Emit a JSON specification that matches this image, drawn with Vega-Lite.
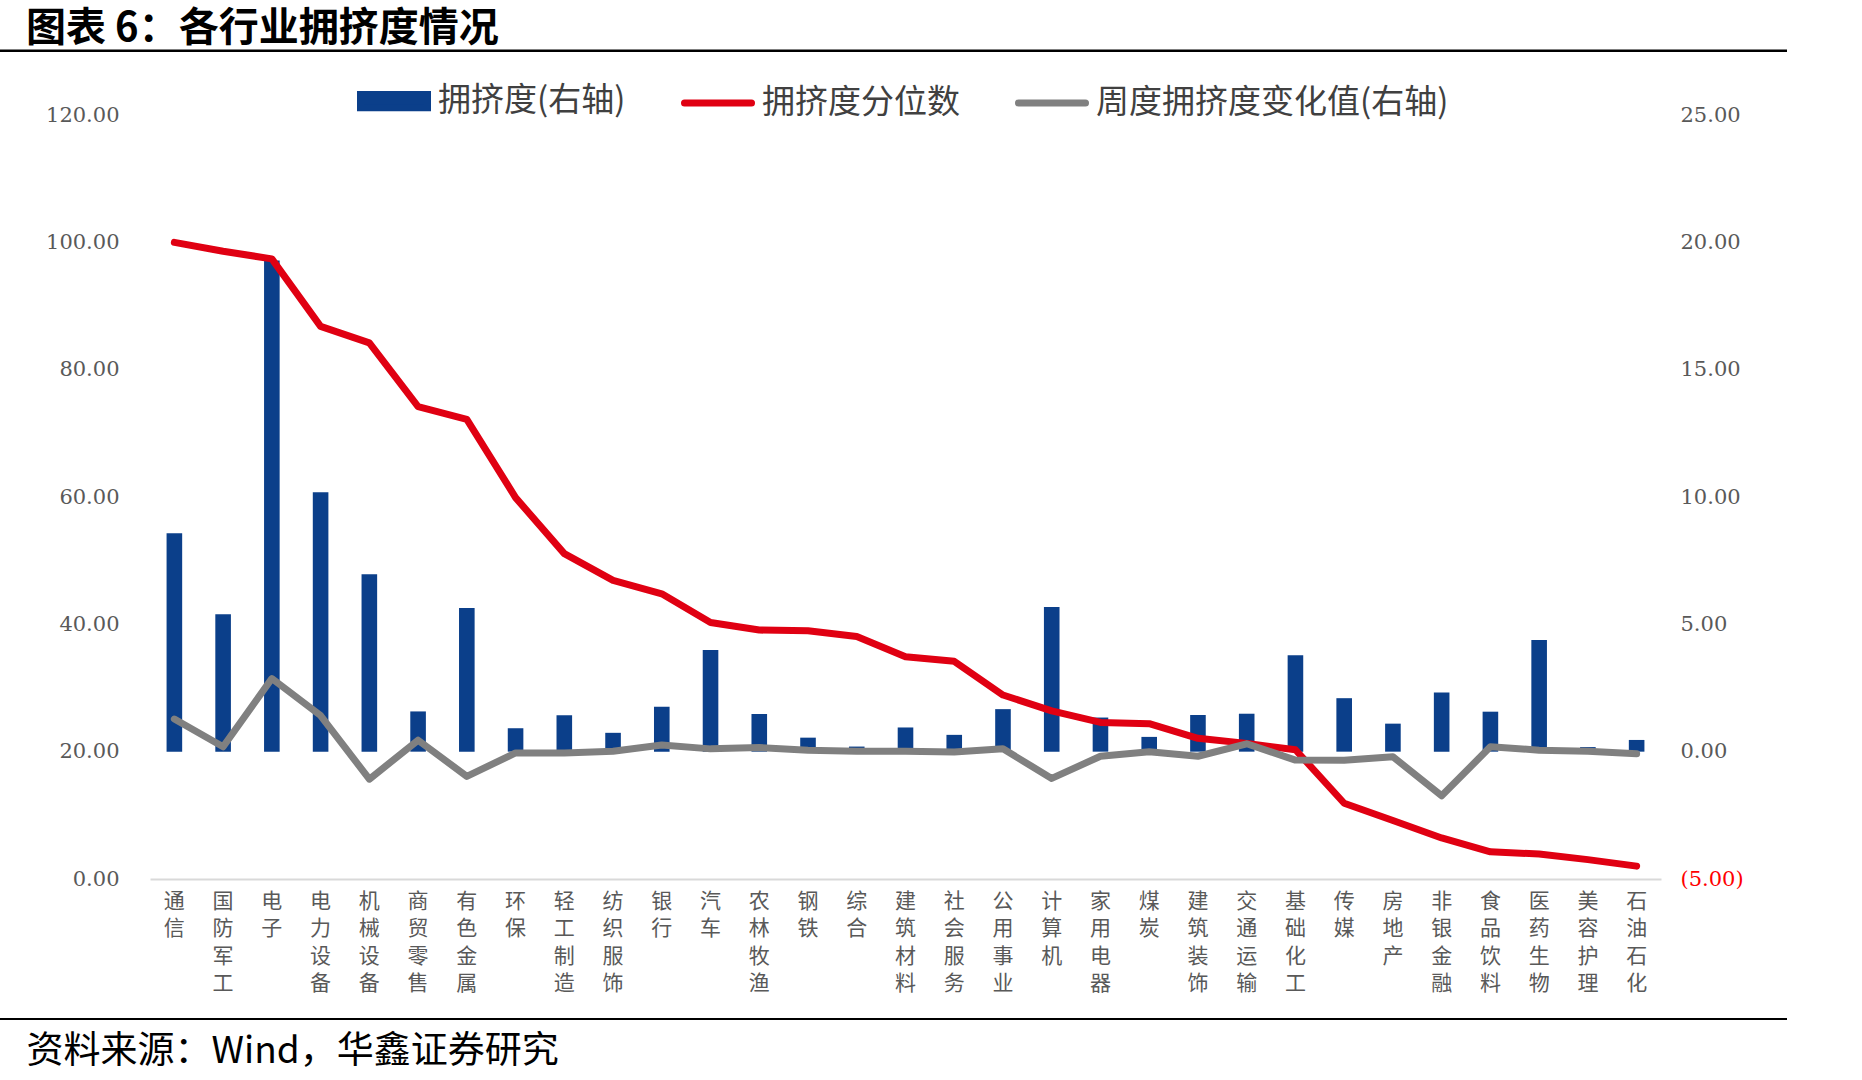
{
  "$schema": "https://vega.github.io/schema/vega-lite/v6.json",
  "width": 1511,
  "height": 764,
  "autosize": {"type": "none"},
  "padding": {"left": 150, "top": 115, "right": 201, "bottom": 201},
  "background": "white",
  "title": {
    "text": "图表 6：各行业拥挤度情况",
    "anchor": "start",
    "frame": "group",
    "fontSize": 40,
    "font": "Noto Sans CJK SC",
    "fontWeight": "bold",
    "color": "#000000",
    "dx": -124,
    "dy": 10,
    "offset": 10
  },
  "config": {"view": {"stroke": null}, "font": "Noto Sans CJK SC"},
  "data": {
    "values": [
      {"industry": "通信", "crowd": 8.58, "pct": 100.0, "chg": 1.28},
      {"industry": "国防军工", "crowd": 5.40, "pct": 98.6, "chg": 0.19},
      {"industry": "电子", "crowd": 19.29, "pct": 97.4, "chg": 2.87},
      {"industry": "电力设备", "crowd": 10.19, "pct": 86.8, "chg": 1.42},
      {"industry": "机械设备", "crowd": 6.97, "pct": 84.2, "chg": -1.08},
      {"industry": "商贸零售", "crowd": 1.58, "pct": 74.2, "chg": 0.45},
      {"industry": "有色金属", "crowd": 5.64, "pct": 72.2, "chg": -0.97},
      {"industry": "环保", "crowd": 0.92, "pct": 59.9, "chg": -0.05},
      {"industry": "轻工制造", "crowd": 1.43, "pct": 51.1, "chg": -0.05},
      {"industry": "纺织服饰", "crowd": 0.74, "pct": 46.9, "chg": 0.02},
      {"industry": "银行", "crowd": 1.76, "pct": 44.8, "chg": 0.26},
      {"industry": "汽车", "crowd": 3.99, "pct": 40.3, "chg": 0.11},
      {"industry": "农林牧渔", "crowd": 1.48, "pct": 39.1, "chg": 0.16},
      {"industry": "钢铁", "crowd": 0.55, "pct": 39.0, "chg": 0.06},
      {"industry": "综合", "crowd": 0.20, "pct": 38.1, "chg": 0.02},
      {"industry": "建筑材料", "crowd": 0.95, "pct": 34.9, "chg": 0.02},
      {"industry": "社会服务", "crowd": 0.66, "pct": 34.2, "chg": -0.01},
      {"industry": "公用事业", "crowd": 1.67, "pct": 28.9, "chg": 0.11},
      {"industry": "计算机", "crowd": 5.68, "pct": 26.4, "chg": -1.05},
      {"industry": "家用电器", "crowd": 1.34, "pct": 24.6, "chg": -0.18},
      {"industry": "煤炭", "crowd": 0.58, "pct": 24.4, "chg": 0.0},
      {"industry": "建筑装饰", "crowd": 1.44, "pct": 22.1, "chg": -0.18},
      {"industry": "交通运输", "crowd": 1.49, "pct": 21.3, "chg": 0.31},
      {"industry": "基础化工", "crowd": 3.79, "pct": 20.3, "chg": -0.33},
      {"industry": "传媒", "crowd": 2.10, "pct": 11.9, "chg": -0.34},
      {"industry": "房地产", "crowd": 1.10, "pct": 9.2, "chg": -0.20},
      {"industry": "非银金融", "crowd": 2.32, "pct": 6.45, "chg": -1.73},
      {"industry": "食品饮料", "crowd": 1.57, "pct": 4.27, "chg": 0.19},
      {"industry": "医药生物", "crowd": 4.38, "pct": 3.93, "chg": 0.06},
      {"industry": "美容护理", "crowd": 0.18, "pct": 3.04, "chg": 0.02},
      {"industry": "石油石化", "crowd": 0.46, "pct": 2.02, "chg": -0.08}
    ]
  },
  "layer": [
    {
      "layer": [
        {
          "mark": {"type": "bar"},
          "encoding": {
            "x": {
              "field": "industry", "type": "nominal", "sort": null,
              "scale": {"paddingInner": 0.68, "paddingOuter": 0.34},
              "axis": {
                "title": "资料来源：Wind，华鑫证券研究",
                "labelExpr": "split(datum.label, '')",
                "labelAngle": 0,
                "labelFontSize": 21,
                "labelLineHeight": 27.5,
                "labelColor": "#595959",
                "labelPadding": 11,
                "labelBaseline": "top",
                "labelOverlap": false,
                "labelBound": false,
                "ticks": false,
                "domainColor": "#D9D9D9",
                "domainWidth": 2,
                "titleFontSize": 37,
                "titleFont": "Noto Sans CJK SC",
                "titleColor": "#000000",
                "titleFontWeight": "normal",
                "titleAnchor": "start",
                "titleAlign": "left",
                "titleX": -124,
                "titleY": 183,
                "titleBaseline": "alphabetic"
              }
            },
            "y": {
              "field": "crowd", "type": "quantitative",
              "scale": {"domain": [-5, 25], "nice": false},
              "axis": {
                "orient": "right",
                "values": [-5, 0, 5, 10, 15, 20, 25],
                "labelExpr": "datum.value < 0 ? '(' + format(-datum.value, '.2f') + ')' : format(datum.value, '.2f')",
                "labelColor": {"condition": {"test": "datum.value < 0", "value": "#FF0000"}, "value": "#595959"},
                "labelFont": "DejaVu Serif",
                "labelFontSize": 21,
                "labelPadding": 19,
                "ticks": false,
                "domain": false,
                "grid": false,
                "title": null
              }
            },
            "color": {
              "datum": "拥挤度(右轴)", "type": "nominal",
              "scale": {
                "domain": ["拥挤度(右轴)", "拥挤度分位数", "周度拥挤度变化值(右轴)"],
                "range": ["#0B3F8A", "#E00012", "#808080"]
              },
              "legend": {
                "title": null,
                "orient": "none",
                "direction": "horizontal",
                "legendX": 207,
                "legendY": -51,
                "padding": 0,
                "symbolType": "stroke",
                "symbolSize": 4489,
                "symbolStrokeWidth": 7,
                "labelFontSize": 33,
                "labelFont": "Noto Sans CJK SC",
                "labelColor": "#404040",
                "labelOffset": 7,
                "columnPadding": 44,
                "labelLimit": 600,
                "encode": {
                  "symbols": {
                    "update": {
                      "shape": {"signal": "datum.value === '拥挤度(右轴)' ? 'M-1,-0.2H1V0.2H-1Z' : 'stroke'"},
                      "fill": {"signal": "datum.value === '拥挤度(右轴)' ? '#0B3F8A' : 'transparent'"},
                      "stroke": {"signal": "datum.value === '拥挤度(右轴)' ? 'transparent' : scale('color', datum.value)"},
                      "strokeCap": {"value": "round"}
                    }
                  }
                }
              }
            }
          }
        },
        {
          "mark": {"type": "line", "strokeWidth": 7, "strokeCap": "round", "strokeJoin": "round"},
          "encoding": {
            "x": {"field": "industry", "type": "nominal", "sort": null},
            "y": {
              "field": "pct", "type": "quantitative",
              "scale": {"domain": [0, 120], "nice": false},
              "axis": {
                "orient": "left",
                "values": [0, 20, 40, 60, 80, 100, 120],
                "format": ".2f",
                "labelColor": "#595959",
                "labelFont": "DejaVu Serif",
                "labelFontSize": 21,
                "labelPadding": 31,
                "ticks": false,
                "domain": false,
                "grid": false,
                "title": null
              }
            },
            "color": {"datum": "拥挤度分位数", "type": "nominal"}
          }
        },
        {
          "mark": {"type": "line", "strokeWidth": 7, "strokeCap": "round", "strokeJoin": "round"},
          "encoding": {
            "x": {"field": "industry", "type": "nominal", "sort": null},
            "y": {
              "field": "chg", "type": "quantitative",
              "scale": {"domain": [-5, 25], "nice": false},
              "axis": null
            },
            "color": {"datum": "周度拥挤度变化值(右轴)", "type": "nominal"}
          }
        }
      ],
      "resolve": {"scale": {"y": "independent"}}
    },
    {
      "data": {"values": [{}]},
      "mark": {"type": "rule", "color": "#000000", "strokeWidth": 2.5},
      "encoding": {
        "x": {"datum": 0, "type": "quantitative", "scale": {"domain": [0, 1], "range": [-150, 1637]}, "axis": null},
        "x2": {"datum": 1},
        "y": {"datum": 130.1, "type": "quantitative", "scale": {"domain": [0, 120], "nice": false}, "axis": null}
      }
    },
    {
      "data": {"values": [{}]},
      "mark": {"type": "rule", "color": "#000000", "strokeWidth": 2},
      "encoding": {
        "x": {"datum": 0, "type": "quantitative", "scale": {"domain": [0, 1], "range": [-150, 1637]}, "axis": null},
        "x2": {"datum": 1},
        "y": {"datum": -22, "type": "quantitative", "scale": {"domain": [0, 120], "nice": false}, "axis": null}
      }
    }
  ],
  "resolve": {"scale": {"x": "independent", "y": "independent"}}
}
